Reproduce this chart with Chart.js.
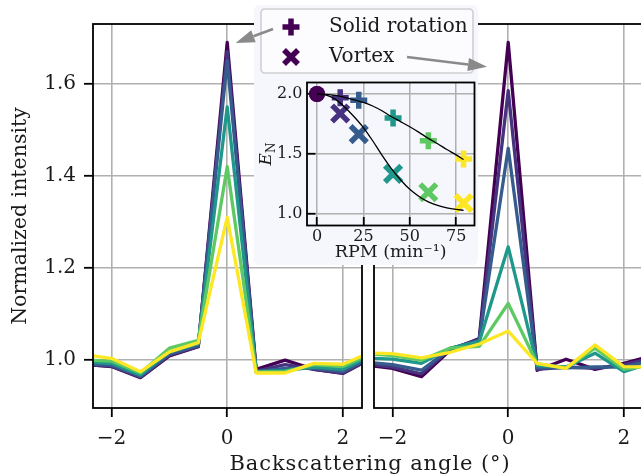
<!DOCTYPE html>
<html><head><meta charset="utf-8">
<script src="https://cdn.jsdelivr.net/npm/chart.js@4.4.1/dist/chart.umd.min.js"></script>
<style>
html,body{margin:0;padding:0;background:#fff;overflow:hidden;width:641px;height:475px;position:relative}
canvas{position:absolute;left:0;top:0;}
#xlabel{position:absolute;left:0;width:740px;text-align:center;top:451px;font-family:'DejaVu Serif',serif;font-size:21px;letter-spacing:0.9px;color:#1a1a1a;line-height:24px;white-space:nowrap}
</style></head><body>
<canvas id="cA" width="641" height="475"></canvas>
<canvas id="cB" width="660" height="475"></canvas>
<canvas id="cC" width="641" height="475"></canvas>
<div id="xlabel">Backscattering angle (°)</div>
<script>
// ---------- DATA ----------
const angle = [-2.5, -2, -1.5, -1, -0.5, 0, 0.5, 1, 1.5, 2, 2.5];
const rpm = [0, 12.5, 22.5, 41, 60, 79];
const rpmLabels = ['0', '12.5', '22.5', '41', '60', '79'];

// left panel: solid rotation
const solid_r0 = [0.991, 0.986, 0.962, 1.009, 1.029, 1.690, 0.980, 1.000, 0.980, 0.971, 1.004];
const solid_r1 = [0.990, 0.987, 0.963, 1.011, 1.030, 1.670, 0.976, 0.990, 0.980, 0.972, 1.005];
const solid_r2 = [0.993, 0.989, 0.965, 1.013, 1.032, 1.650, 0.975, 0.982, 0.982, 0.975, 1.007];
const solid_r3 = [0.996, 0.993, 0.968, 1.018, 1.036, 1.550, 0.975, 0.977, 0.985, 0.980, 1.010];
const solid_r4 = [1.000, 0.998, 0.972, 1.026, 1.043, 1.420, 0.974, 0.975, 0.990, 0.986, 1.014];
const solid_r5 = [1.012, 1.004, 0.975, 1.018, 1.038, 1.310, 0.972, 0.972, 0.993, 0.991, 1.018];

// right panel: vortex
const vortex_r0 = [0.990, 0.982, 0.964, 1.022, 1.047, 1.690, 0.978, 1.002, 0.980, 0.993, 1.010];
const vortex_r1 = [0.992, 0.985, 0.970, 1.024, 1.045, 1.585, 0.980, 0.985, 0.982, 0.990, 1.005];
const vortex_r2 = [0.996, 0.990, 0.978, 1.025, 1.043, 1.460, 0.983, 0.983, 0.985, 0.985, 1.000];
const vortex_r3 = [1.005, 1.002, 0.993, 1.026, 1.040, 1.246, 0.988, 0.985, 1.015, 0.975, 0.995];
const vortex_r4 = [1.015, 1.010, 1.000, 1.026, 1.030, 1.123, 0.992, 0.983, 1.026, 0.980, 0.990];
const vortex_r5 = [1.016, 1.014, 1.005, 1.017, 1.035, 1.063, 0.993, 0.982, 1.033, 0.986, 0.985];

// inset: E_N vs RPM
const enSolid  = [2.000, 1.969, 1.947, 1.800, 1.610, 1.458];
const enVortex = [2.000, 1.837, 1.665, 1.334, 1.180, 1.090];
const fitRPM    = [0, 5, 10, 15, 20, 25, 30, 35, 40, 45, 50, 55, 60, 65, 70, 75, 79];
const fitSolid  = [2.000, 1.997, 1.988, 1.972, 1.952, 1.930, 1.900, 1.860, 1.812, 1.770, 1.727, 1.680, 1.630, 1.585, 1.537, 1.492, 1.453];
const fitVortex = [2.000, 1.990, 1.955, 1.890, 1.810, 1.720, 1.610, 1.490, 1.380, 1.285, 1.205, 1.145, 1.100, 1.070, 1.050, 1.037, 1.030];

// ticks
const angleTicks = [-2, 0, 2];
const intensityTicks = [1.0, 1.2, 1.4, 1.6];
const rpmTicks = [0, 25, 50, 75];
const enTicks = [1.0, 1.5, 2.0];

// ---------- STYLE ----------
const FONT = "'DejaVu Serif', serif";
const TXT = '#1a1a1a';
const GRID = '#b0b0b0';
const colors = ['#440154', '#46327e', '#365c8d', '#1f988b', '#5ec962', '#fde725'];

function fmtAngle(v) { return v < 0 ? '\u2212' + Math.abs(v) : String(v); }

const framePlugin = {
  id: 'frame',
  afterDatasetsDraw(chart) {
    const { ctx, chartArea: a } = chart;
    ctx.save();
    ctx.strokeStyle = '#000';
    ctx.lineWidth = 1.8;
    ctx.strokeRect(a.left, a.top, a.right - a.left, a.bottom - a.top);
    ctx.restore();
  }
};

function lineSets(series) {
  return series.map((s, i) => ({
    label: rpmLabels[i] + ' RPM',
    data: angle.map((x, j) => ({ x, y: s[j] })),
    showLine: true,
    borderColor: colors[i],
    backgroundColor: colors[i],
    borderWidth: 3.3,
    borderJoinStyle: 'round',
    borderCapStyle: 'round',
    pointRadius: 0,
    tension: 0,
    clip: 0,
    order: 10 - i
  }));
}

function mainScales(left) {
  return {
    x: {
      type: 'linear', min: -2.32, max: 2.33,
      afterBuildTicks: s => { s.ticks = angleTicks.map(v => ({ value: v })); },
      afterFit: s => { s.height = 50; },
      grid: { color: GRID, lineWidth: 1.6, tickColor: '#000', tickWidth: 1.8, tickLength: 9 },
      border: { display: false },
      ticks: { font: { family: FONT, size: 20 }, color: TXT, padding: 10, maxRotation: 0, autoSkip: false, callback: v => fmtAngle(v) }
    },
    y: {
      type: 'linear', min: 0.896, max: 1.73,
      afterBuildTicks: s => { s.ticks = intensityTicks.map(v => ({ value: v })); },
      afterFit: s => { s.width = left ? 89 : 0; },
      grid: { color: GRID, lineWidth: 1.6, tickColor: '#000', tickWidth: 1.8, tickLength: 9, drawTicks: left },
      border: { display: false },
      ticks: { display: left, font: { family: FONT, size: 20 }, color: TXT, padding: 8, callback: v => v.toFixed(1) },
      title: { display: left, text: 'Normalized intensity', font: { family: FONT, size: 20.5 }, color: TXT, padding: { top: 4, bottom: 0 } }
    }
  };
}

const common = {
  responsive: false, animation: false, devicePixelRatio: 1,
  plugins: { legend: { display: false }, tooltip: { enabled: false } }
};

const chartA = new Chart(document.getElementById('cA'), {
  type: 'scatter',
  data: { datasets: lineSets([solid_r0, solid_r1, solid_r2, solid_r3, solid_r4, solid_r5]) },
  options: Object.assign({}, common, {
    layout: { padding: { left: 4, top: 24, right: 279, bottom: 17 } },
    scales: mainScales(true)
  }),
  plugins: [framePlugin]
});

const chartB = new Chart(document.getElementById('cB'), {
  type: 'scatter',
  data: { datasets: lineSets([vortex_r0, vortex_r1, vortex_r2, vortex_r3, vortex_r4, vortex_r5]) },
  options: Object.assign({}, common, {
    layout: { padding: { left: 374, top: 24, right: 17, bottom: 17 } },
    scales: mainScales(false)
  }),
  plugins: [framePlugin]
});

// ---------- INSET ----------
function roundRect(ctx, x, y, w, h, r) {
  ctx.beginPath();
  ctx.moveTo(x + r, y);
  ctx.lineTo(x + w - r, y); ctx.quadraticCurveTo(x + w, y, x + w, y + r);
  ctx.lineTo(x + w, y + h - r); ctx.quadraticCurveTo(x + w, y + h, x + w - r, y + h);
  ctx.lineTo(x + r, y + h); ctx.quadraticCurveTo(x, y + h, x, y + h - r);
  ctx.lineTo(x, y + r); ctx.quadraticCurveTo(x, y, x + r, y);
  ctx.closePath();
}

function drawArrow(ctx, x0, y0, x1, y1) {
  const ang = Math.atan2(y1 - y0, x1 - x0);
  const hl = 19, hw = 6.5;
  const bx = x1 - hl * Math.cos(ang), by = y1 - hl * Math.sin(ang);
  ctx.strokeStyle = '#8a8a8a'; ctx.fillStyle = '#8a8a8a';
  ctx.lineWidth = 2.6;
  ctx.beginPath(); ctx.moveTo(x0, y0); ctx.lineTo(bx, by); ctx.stroke();
  ctx.beginPath();
  ctx.moveTo(x1, y1);
  ctx.lineTo(bx - hw * Math.sin(ang), by + hw * Math.cos(ang));
  ctx.lineTo(bx + hw * Math.sin(ang), by - hw * Math.cos(ang));
  ctx.closePath(); ctx.fill();
}

// arrow targets in data coordinates of each main panel
const arrowSolidTarget = { x: 0.146, y: 1.689 };
const arrowVortexTarget = { x: -0.367, y: 1.637 };

const insetPlugin = {
  id: 'inset',
  beforeDraw(chart) {
    const { ctx, chartArea: a } = chart;
    ctx.save();
    ctx.fillStyle = '#f6f7fc';
    roundRect(ctx, a.left - 53, 5, 478 - (a.left - 53), 260, 6);
    ctx.fill();
    ctx.restore();
  },
  afterDraw(chart) {
    const { ctx, chartArea: a } = chart;
    ctx.save();
    // y title E_N
    ctx.translate(265, (a.top + a.bottom) / 2);
    ctx.rotate(-Math.PI / 2);
    ctx.fillStyle = TXT;
    ctx.textBaseline = 'alphabetic';
    ctx.font = 'italic 17px ' + FONT;
    const wE = ctx.measureText('E').width;
    ctx.font = '12px ' + FONT;
    const wN = ctx.measureText('N').width;
    const x0 = -(wE + wN) / 2;
    ctx.font = 'italic 17px ' + FONT;
    ctx.fillText('E', x0, 6);
    ctx.font = '12px ' + FONT;
    ctx.fillText('N', x0 + wE, 9.5);
    ctx.restore();

    // legend
    ctx.save();
    roundRect(ctx, 261, 9, 212, 64, 4);
    ctx.fillStyle = 'rgba(252,252,254,0.95)';
    ctx.fill();
    ctx.strokeStyle = '#cfcfd4';
    ctx.lineWidth = 1.6;
    ctx.stroke();
    ctx.strokeStyle = colors[0];
    ctx.lineWidth = 5.5;
    ctx.beginPath();
    ctx.moveTo(282.5, 27); ctx.lineTo(299.5, 27);
    ctx.moveTo(291, 18.5); ctx.lineTo(291, 35.5);
    ctx.stroke();
    ctx.beginPath();
    ctx.moveTo(284, 50); ctx.lineTo(298, 64);
    ctx.moveTo(298, 50); ctx.lineTo(284, 64);
    ctx.stroke();
    ctx.fillStyle = TXT;
    ctx.font = '20px ' + FONT;
    ctx.textBaseline = 'middle';
    ctx.fillText('Solid rotation', 329, 27);
    ctx.fillText('Vortex', 329, 57);

    // arrows
    const ax = chartA.scales.x.getPixelForValue(arrowSolidTarget.x);
    const ay = chartA.scales.y.getPixelForValue(arrowSolidTarget.y);
    drawArrow(ctx, 273, 29, ax, ay);
    const bx = chartB.scales.x.getPixelForValue(arrowVortexTarget.x);
    const by = chartB.scales.y.getPixelForValue(arrowVortexTarget.y);
    drawArrow(ctx, 407, 57, bx, by);
    ctx.restore();
  }
};

function markerSet(label, values, style, radius) {
  return {
    label,
    data: rpm.map((x, i) => ({ x, y: values[i] })),
    showLine: false,
    pointStyle: rpm.map((x, i) => i === 0 ? 'circle' : style),
    pointRadius: rpm.map((x, i) => i === 0 ? 8 : radius),
    pointBorderWidth: rpm.map((x, i) => i === 0 ? 0 : 5.5),
    pointBorderColor: colors,
    pointBackgroundColor: colors,
    clip: false,
    order: 5
  };
}

const chartC = new Chart(document.getElementById('cC'), {
  type: 'scatter',
  data: {
    datasets: [
      { label: 'fit solid', data: fitRPM.map((x, i) => ({ x, y: fitSolid[i] })), showLine: true,
        borderColor: '#000', borderWidth: 1.3, pointRadius: 0, cubicInterpolationMode: 'monotone', order: 0 },
      { label: 'fit vortex', data: fitRPM.map((x, i) => ({ x, y: fitVortex[i] })), showLine: true,
        borderColor: '#000', borderWidth: 1.3, pointRadius: 0, cubicInterpolationMode: 'monotone', order: 0 },
      markerSet('Solid rotation', enSolid, 'cross', 8.5),
      markerSet('Vortex', enVortex, 'crossRot', 11.5)
    ]
  },
  options: Object.assign({}, common, {
    layout: { padding: { left: 267, top: 82.5, right: 166.5, bottom: 212.5 } },
    scales: {
      x: {
        type: 'linear', min: -5.4, max: 84.9,
        afterBuildTicks: s => { s.ticks = rpmTicks.map(v => ({ value: v })); },
        afterFit: s => { s.height = 37; },
        grid: { color: GRID, lineWidth: 1.5, tickColor: '#000', tickWidth: 1.8, tickLength: -8.5 },
        border: { display: false },
        ticks: { font: { family: FONT, size: 16 }, color: TXT, padding: 10.5, maxRotation: 0, autoSkip: false },
        title: { display: true, text: 'RPM (min\u207B\u00B9)', font: { family: FONT, size: 17.5 }, color: TXT, padding: { top: 0, bottom: 0 } }
      },
      y: {
        type: 'linear', min: 0.903, max: 2.096,
        afterBuildTicks: s => { s.ticks = enTicks.map(v => ({ value: v })); },
        afterFit: s => { s.width = 40; },
        grid: { color: GRID, lineWidth: 1.5, tickColor: '#000', tickWidth: 1.8, tickLength: -8.5 },
        border: { display: false },
        ticks: { font: { family: FONT, size: 16 }, color: TXT, padding: 13, callback: v => v.toFixed(1) }
      }
    }
  }),
  plugins: [insetPlugin, framePlugin]
});
</script>
</body></html>
